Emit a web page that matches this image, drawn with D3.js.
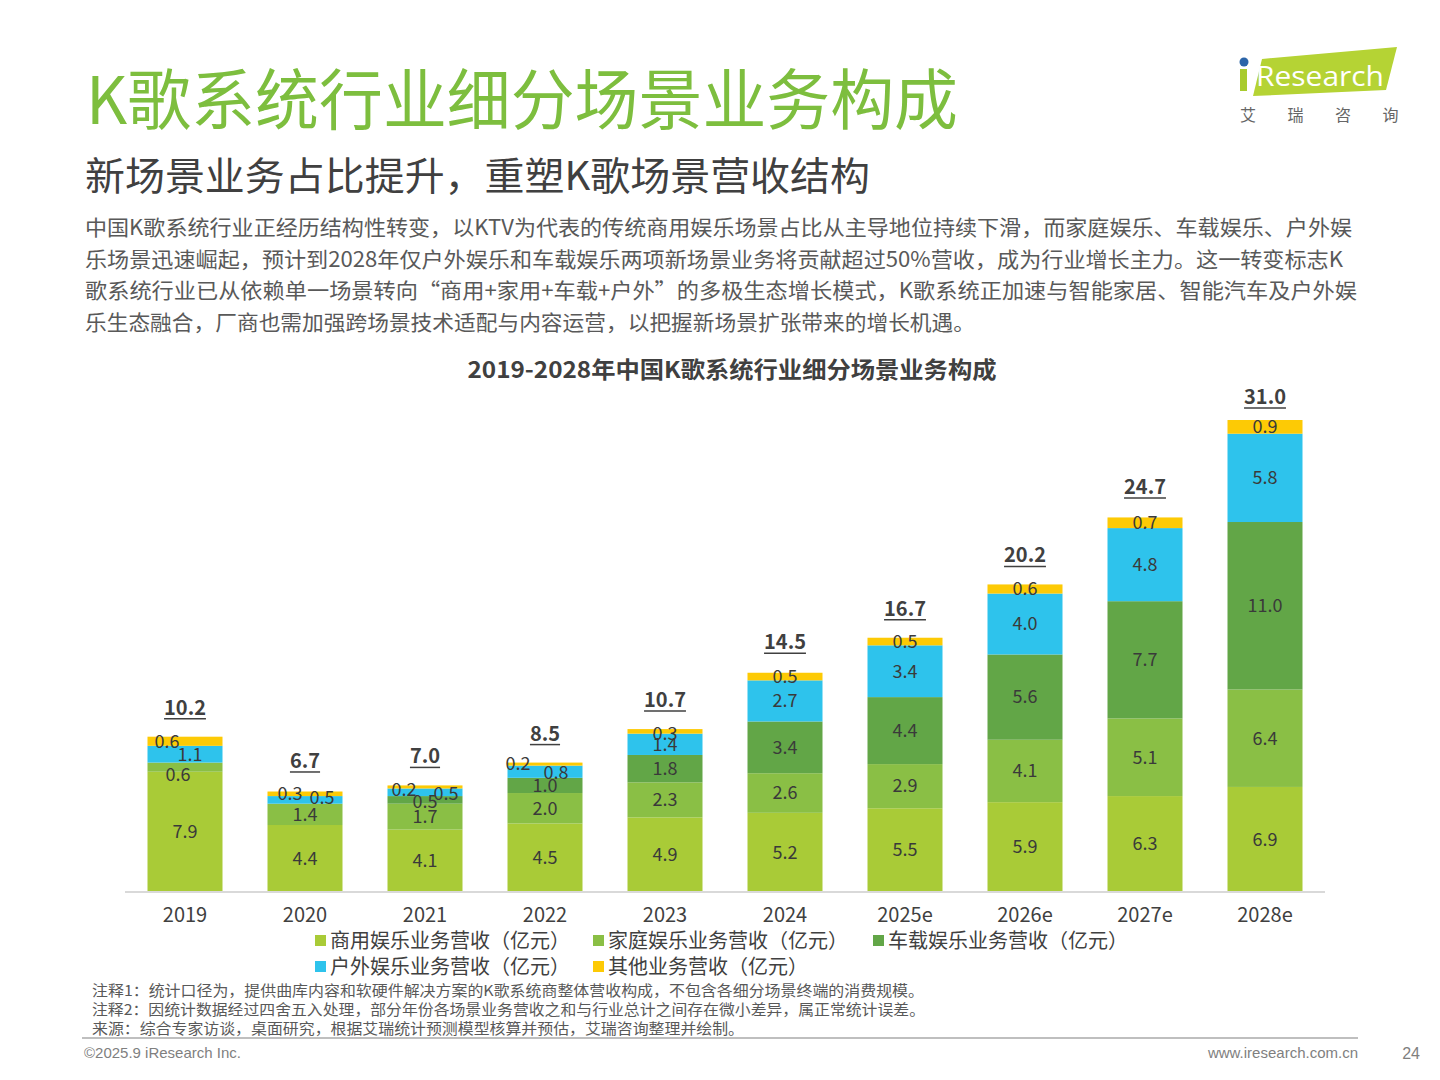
<!DOCTYPE html>
<html>
<head>
<meta charset="utf-8">
<script src="https://cdn.jsdelivr.net/npm/d3@7"></script>
<style>
  body { margin: 0; background: #fff; }
  svg text { font-family: "Noto Sans CJK SC", "Noto Sans", sans-serif; }
</style>
</head>
<body>
<div id="chart"></div>
<script>
// data
const years = ["2019", "2020", "2021", "2022", "2023", "2024", "2025e", "2026e", "2027e", "2028e"];
const commercial = [7.9, 4.4, 4.1, 4.5, 4.9, 5.2, 5.5, 5.9, 6.3, 6.9];
const household = [0.6, 1.4, 1.7, 2.0, 2.3, 2.6, 2.9, 4.1, 5.1, 6.4];
const car = [0, 0, 0.5, 1.0, 1.8, 3.4, 4.4, 5.6, 7.7, 11.0];
const outdoor = [1.1, 0.5, 0.5, 0.8, 1.4, 2.7, 3.4, 4.0, 4.8, 5.8];
const other = [0.6, 0.3, 0.2, 0.2, 0.3, 0.5, 0.5, 0.6, 0.7, 0.9];
const totals = [10.2, 6.7, 7.0, 8.5, 10.7, 14.5, 16.7, 20.2, 24.7, 31.0];

const seriesNames = ["商用娱乐业务营收（亿元）", "家庭娱乐业务营收（亿元）", "车载娱乐业务营收（亿元）",
                     "户外娱乐业务营收（亿元）", "其他业务营收（亿元）"];
const seriesKeys = ["commercial", "household", "car", "outdoor", "other"];
const colors = ["#a9cb37", "#8abf45", "#62a647", "#2ec3ec", "#fdca05"];

// label nudges for the thin segments (layout only)
const nudge = {
  "2019-household": [-7, 8], "2019-outdoor": [5, 0], "2019-other": [-18, 0],
  "2020-outdoor": [17, -2], "2020-other": [-15, 0],
  "2021-car": [0, 2], "2021-outdoor": [21, 1], "2021-other": [-21, 3],
  "2022-outdoor": [11, 1], "2022-other": [-27, 0],
  "2023-other": [0, 2]
};

const W = 1440, H = 1080;
const svg = d3.select("#chart").append("svg").attr("width", W).attr("height", H);
svg.append("rect").attr("width", W).attr("height", H).attr("fill", "#fff");

// header
svg.append("text").attr("x", 86).attr("y", 124).attr("font-size", 66)
  .attr("fill", "#7dbe3e").attr("textLength", 872).attr("lengthAdjust", "spacingAndGlyphs")
  .text("K歌系统行业细分场景业务构成");
svg.append("text").attr("x", 85).attr("y", 190).attr("font-size", 39)
  .attr("fill", "#404040").attr("textLength", 785).attr("lengthAdjust", "spacingAndGlyphs")
  .text("新场景业务占比提升，重塑K歌场景营收结构");

const body = [
  "中国K歌系统行业正经历结构性转变，以KTV为代表的传统商用娱乐场景占比从主导地位持续下滑，而家庭娱乐、车载娱乐、户外娱",
  "乐场景迅速崛起，预计到2028年仅户外娱乐和车载娱乐两项新场景业务将贡献超过50%营收，成为行业增长主力。这一转变标志K",
  "歌系统行业已从依赖单一场景转向“商用+家用+车载+户外”的多极生态增长模式，K歌系统正加速与智能家居、智能汽车及户外娱",
  "乐生态融合，厂商也需加强跨场景技术适配与内容运营，以把握新场景扩张带来的增长机遇。"
];
const bodyW = [1267, 1258, 1272, 890];
body.forEach((t, i) => {
  svg.append("text").attr("x", 85).attr("y", 235 + i * 31.5).attr("font-size", 21)
    .attr("fill", "#595959").attr("textLength", bodyW[i]).attr("lengthAdjust", "spacingAndGlyphs")
    .text(t);
});

// logo
const logo = svg.append("g");
logo.append("path").attr("d", "M1262,59 L1397,47 L1386,90 L1253,96 Z").attr("fill", "#b5d334");
logo.append("circle").attr("cx", 1244).attr("cy", 62).attr("r", 4.5).attr("fill", "#2b64a8");
logo.append("rect").attr("x", 1240).attr("y", 69).attr("width", 7).attr("height", 22).attr("fill", "#a8cb2e");
logo.append("text").attr("x", 1256).attr("y", 86).attr("font-size", 27).attr("fill", "#fff")
  .style("font-family", "\"Open Sans\", sans-serif").attr("textLength", 128).attr("lengthAdjust", "spacingAndGlyphs")
  .text("Research");
["艾", "瑞", "咨", "询"].forEach((c, i) => {
  logo.append("text").attr("x", 1248 + i * 47.5).attr("y", 121).attr("font-size", 16)
    .attr("text-anchor", "middle").attr("fill", "#666").text(c);
});

// chart title
svg.append("text").attr("x", 732).attr("y", 378).attr("text-anchor", "middle")
  .attr("font-size", 23).attr("font-weight", "bold").attr("fill", "#404040")
  .attr("textLength", 529).attr("lengthAdjust", "spacingAndGlyphs")
  .text("2019-2028年中国K歌系统行业细分场景业务构成");

// scales
const x = d3.scaleBand().domain(years).range([125, 1325]).paddingInner(0.375).paddingOuter(0.1875);
const y = d3.scaleLinear().domain([0, 31]).range([892, 420]);

const rows = years.map((yr, i) => ({
  year: yr, commercial: commercial[i], household: household[i], car: car[i],
  outdoor: outdoor[i], other: other[i], total: totals[i]
}));
const stack = d3.stack().keys(seriesKeys)(rows);

const layers = svg.append("g").selectAll("g").data(stack).join("g")
  .attr("fill", (d, i) => colors[i]);
layers.selectAll("rect").data(d => d.filter(s => s[1] - s[0] > 0)).join("rect")
  .attr("x", d => x(d.data.year))
  .attr("width", x.bandwidth())
  .attr("y", d => y(d[1]))
  .attr("height", d => y(d[0]) - y(d[1]));

// segment labels
stack.forEach(layer => {
  layer.forEach(s => {
    const v = s[1] - s[0];
    if (v <= 0) return;
    const n = nudge[s.data.year + "-" + layer.key] || [0, 0];
    svg.append("text")
      .attr("x", x(s.data.year) + x.bandwidth() / 2 + n[0])
      .attr("y", (y(s[0]) + y(s[1])) / 2 + n[1])
      .attr("dy", "0.35em").attr("text-anchor", "middle")
      .attr("font-size", 18).attr("fill", "#3a3a3a")
      .text(v.toFixed(1));
  });
});

// totals
rows.forEach(r => {
  const cx = x(r.year) + x.bandwidth() / 2;
  const ty = y(r.total) - (r.year === "2028e" ? 23 : 29);
  const t = svg.append("text").attr("x", cx).attr("y", ty).attr("dy", "0.35em")
    .attr("text-anchor", "middle").attr("font-size", 20).attr("font-weight", "bold")
    .attr("fill", "#404040").text(r.total.toFixed(1));
  const w = t.node().getComputedTextLength();
  svg.append("line").attr("x1", cx - w / 2).attr("x2", cx + w / 2)
    .attr("y1", ty + 11).attr("y2", ty + 11).attr("stroke", "#404040").attr("stroke-width", 1.5);
});

// x axis
const xAxis = svg.append("g").attr("transform", "translate(0,892)")
  .call(d3.axisBottom(x).tickSize(0).tickPadding(16));
xAxis.select(".domain").attr("stroke", "#d9d9d9").attr("stroke-width", 2)
  .attr("d", "M125,0H1325");
xAxis.selectAll("text").attr("font-size", 20).attr("fill", "#404040")
  .style("font-family", "\"Noto Sans CJK SC\", sans-serif");

// legend
const legendPos = [[315, 941], [593, 941], [873, 941], [315, 967], [593, 967]];
seriesNames.forEach((name, i) => {
  const g = svg.append("g").attr("transform", `translate(${legendPos[i][0]},${legendPos[i][1]})`);
  g.append("rect").attr("x", 0).attr("y", -6).attr("width", 11).attr("height", 11).attr("fill", colors[i]);
  g.append("text").attr("x", 15).attr("y", 0).attr("dy", "0.35em").attr("font-size", 20)
    .attr("fill", "#404040").text(name);
});

// notes
const notes = [
  "注释1：统计口径为，提供曲库内容和软硬件解决方案的K歌系统商整体营收构成，不包含各细分场景终端的消费规模。",
  "注释2：因统计数据经过四舍五入处理，部分年份各场景业务营收之和与行业总计之间存在微小差异，属正常统计误差。",
  "来源：综合专家访谈，桌面研究，根据艾瑞统计预测模型核算并预估，艾瑞咨询整理并绘制。"
];
const noteW = [832, 833, 652];
notes.forEach((t, i) => {
  svg.append("text").attr("x", 92).attr("y", 996 + i * 19).attr("font-size", 15)
    .attr("fill", "#595959").attr("textLength", noteW[i]).attr("lengthAdjust", "spacingAndGlyphs").text(t);
});
svg.append("line").attr("x1", 82).attr("x2", 1358).attr("y1", 1038).attr("y2", 1038)
  .attr("stroke", "#bfbfbf").attr("stroke-width", 2);

// footer
const footFont = "\"Liberation Sans\", Arial, sans-serif";
svg.append("text").attr("x", 84).attr("y", 1058).attr("font-size", 15).attr("fill", "#7f7f7f")
  .style("font-family", footFont).text("©2025.9 iResearch Inc.");
svg.append("text").attr("x", 1358).attr("y", 1058).attr("font-size", 15).attr("fill", "#7f7f7f")
  .attr("text-anchor", "end").style("font-family", footFont)
  .text("www.iresearch.com.cn");
svg.append("text").attr("x", 1420).attr("y", 1059).attr("font-size", 16).attr("fill", "#7f7f7f")
  .attr("text-anchor", "end").style("font-family", footFont).text("24");
</script>
</body>
</html>
